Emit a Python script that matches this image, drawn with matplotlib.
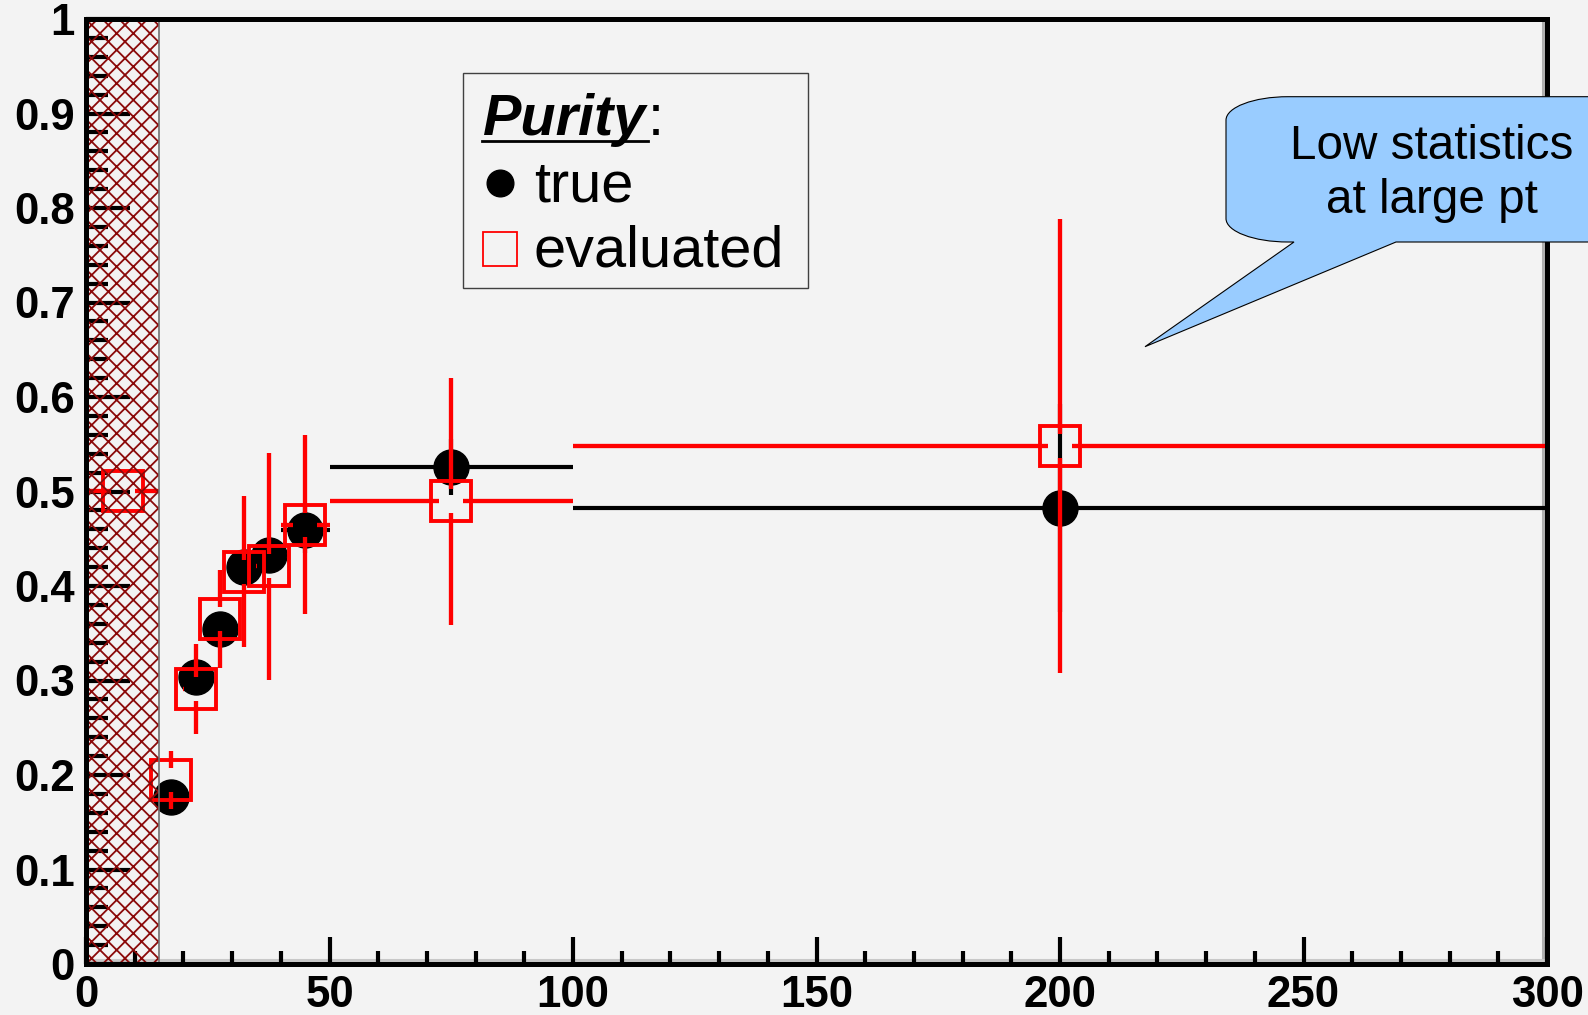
import matplotlib
matplotlib.use("Agg")
import matplotlib.pyplot as plt
from matplotlib.patches import Rectangle, PathPatch
from matplotlib.path import Path
from matplotlib.lines import Line2D
from matplotlib.collections import LineCollection
import matplotlib.transforms as mtransforms
import numpy as np

plt.rcParams['font.family'] = ['Liberation Sans', 'DejaVu Sans']
plt.rcParams['hatch.linewidth'] = 1.3

# pt bins (centre, half width)
true_x = [17.5, 22.5, 27.5, 32.5, 37.5, 45, 75, 200]
true_xerr = [2.5, 2.5, 2.5, 2.5, 2.5, 5, 25, 100]
true_y = [0.177, 0.304, 0.355, 0.42, 0.433, 0.4595, 0.526, 0.483]
true_yerr = [0.01, 0.012, 0.014, 0.016, 0.018, 0.025, 0.03, 0.11]

eval_x = [7.5, 17.5, 22.5, 27.5, 32.5, 37.5, 45, 75, 200]
eval_xerr = [7.5, 2.5, 2.5, 2.5, 2.5, 2.5, 5, 25, 100]
eval_y = [0.501, 0.1945, 0.291, 0.365, 0.415, 0.421, 0.465, 0.4895, 0.548]
eval_yerr = [0.0, 0.031, 0.048, 0.052, 0.08, 0.12, 0.095, 0.131, 0.24]

excluded = (0, 15)   # hatched low-pt region

x_ticks = [0, 50, 100, 150, 200, 250, 300]
x_ticklabels = ['0', '50', '100', '150', '200', '250', '300']
y_ticks = [0, 0.1, 0.2, 0.3, 0.4, 0.5, 0.6, 0.7, 0.8, 0.9, 1.0]
y_ticklabels = ['0', '0.1', '0.2', '0.3', '0.4', '0.5', '0.6', '0.7', '0.8', '0.9', '1']

W, H = 1588, 1015
BG = '#f3f3f3'


def P(x, y):
    # pixel position (from top-left) -> figure fraction
    return (x / W, 1 - y / H)


fig = plt.figure(figsize=(W / 100, H / 100), dpi=100, facecolor=BG)
ax = fig.add_axes([86 / W, (H - 964) / H, (1547 - 86) / W, (964 - 19) / H])
ax.set_facecolor(BG)
ax.set_xlim(0, 300)
ax.set_ylim(0, 1)

for s in ax.spines.values():
    s.set_linewidth(3.6)
    s.set_zorder(10)

ax.set_xticks(x_ticks)
ax.set_xticklabels(x_ticklabels)
ax.set_yticks(y_ticks)
ax.set_yticklabels(y_ticklabels)
ax.set_xticks(np.arange(0, 301, 10), minor=True)
ax.set_yticks(np.arange(0, 1.001, 0.02), minor=True)
ax.tick_params(axis='both', which='both', direction='in', width=3, color='black')
ax.tick_params(axis='x', which='major', length=19.5, pad=8, labelsize=31.5)
ax.tick_params(axis='x', which='minor', length=9.5)
ax.tick_params(axis='y', which='major', length=31.5, pad=8, labelsize=31.5)
ax.tick_params(axis='y', which='minor', length=16)
for lab in ax.get_xticklabels() + ax.get_yticklabels():
    lab.set_fontweight('bold')

# frame shadow inside right / bottom border
shadow_r = mtransforms.offset_copy(ax.transAxes, fig=fig, x=-4.5, y=0, units='dots')
ax.add_line(Line2D([1, 1], [0, 1], transform=shadow_r, color='#b0b0b0', lw=2.2, zorder=1.5))
shadow_b = mtransforms.offset_copy(ax.transAxes, fig=fig, x=0, y=4.5, units='dots')
ax.add_line(Line2D([0, 1], [0, 0], transform=shadow_b, color='#c8c8c8', lw=2.2, zorder=1.5))


def error_lines(xs, ys, xes, yes, gap_px, color, lw, z):
    o = ax.transData.transform((0, 0))
    sx = ax.transData.transform((1, 0))[0] - o[0]
    sy = ax.transData.transform((0, 1))[1] - o[1]
    gx, gy = gap_px / sx, gap_px / sy
    segs = []
    for xi, yi, ex, ey in zip(xs, ys, xes, yes):
        if ex > gx:
            segs.append([(xi - ex, yi), (xi - gx, yi)])
            segs.append([(xi + gx, yi), (xi + ex, yi)])
        if ey > gy:
            segs.append([(xi, yi - ey), (xi, yi - gy)])
            segs.append([(xi, yi + gy), (xi, yi + ey)])
    ax.add_collection(LineCollection(segs, colors=color, linewidths=lw, zorder=z,
                                     capstyle='butt'))


error_lines(true_x, true_y, true_xerr, true_yerr, 0, 'black', 3.0, 3)
ax.plot(true_x, true_y, 'o', color='black', markersize=25.2, zorder=4)
error_lines(eval_x, eval_y, eval_xerr, eval_yerr, 12, '#ff0000', 3.1, 5)
ax.plot(eval_x, eval_y, 's', markerfacecolor='none', markeredgecolor='#ff0000',
        markeredgewidth=2.8, markersize=28.4, zorder=6)

# hatched region, drawn over the markers as in the original
ax.add_patch(Rectangle((excluded[0], 0), excluded[1] - excluded[0], 1, facecolor='none',
                       edgecolor='#8b0a0a', hatch='xx', linewidth=0, zorder=7))
ax.add_patch(Rectangle((excluded[0], 0), excluded[1] - excluded[0], 1, facecolor='none',
                       edgecolor='#707070', linewidth=1.2, zorder=7))

# legend box
fig.add_artist(Rectangle(P(463.3, 288.3), (807.7 - 463.3) / W, (288.3 - 73.3) / H,
                         transform=fig.transFigure, facecolor=BG, edgecolor='#404040',
                         linewidth=1.0, zorder=20))
fig.text(*P(483.3, 135), 'Purity', fontsize=41.5, fontweight='bold', fontstyle='italic',
         va='baseline', ha='left', zorder=21)
fig.add_artist(Line2D([482.3 / W, 647.7 / W], [1 - 141 / H, 1 - 141 / H],
                      transform=fig.transFigure, color='black', lw=2.0, zorder=21))
fig.text(*P(648, 135), ':', fontsize=41.5, va='baseline', ha='left', zorder=21)
fig.add_artist(Line2D([500 / W], [1 - 183.3 / H], transform=fig.transFigure, marker='o',
                      color='black', markersize=19.2, linestyle='none', zorder=21))
fig.text(*P(534, 201), 'true', fontsize=41.5, va='baseline', ha='left', zorder=21)
fig.add_artist(Line2D([500 / W], [1 - 249 / H], transform=fig.transFigure, marker='s',
                      markerfacecolor='none', markeredgecolor='#ff0000', markeredgewidth=1.3,
                      markersize=24.4, linestyle='none', zorder=21))
fig.text(*P(534, 266.7), 'evaluated', fontsize=41.5, va='baseline', ha='left', zorder=21)

# callout bubble
L, R, T, B = 1226, 1650, 96.7, 242
rx, ry = 62, 23.5
k = 0.5523
tip = (1145, 346.7)
pts = [
    ((L + rx, T), Path.MOVETO),
    ((R - rx, T), Path.LINETO),
    ((R - rx + k * rx, T), Path.CURVE4), ((R, T + ry - k * ry), Path.CURVE4), ((R, T + ry), Path.CURVE4),
    ((R, B - ry), Path.LINETO),
    ((R, B - ry + k * ry), Path.CURVE4), ((R - rx + k * rx, B), Path.CURVE4), ((R - rx, B), Path.CURVE4),
    ((1396, B), Path.LINETO),
    (tip, Path.LINETO),
    ((1294, B), Path.LINETO),
    ((L + rx, B), Path.LINETO),
    ((L + rx - k * rx, B), Path.CURVE4), ((L, B - ry + k * ry), Path.CURVE4), ((L, B - ry), Path.CURVE4),
    ((L, T + ry), Path.LINETO),
    ((L, T + ry - k * ry), Path.CURVE4), ((L + rx - k * rx, T), Path.CURVE4), ((L + rx, T), Path.CURVE4),
    ((L + rx, T), Path.CLOSEPOLY),
]
verts = [P(*p) for p, c in pts]
codes = [c for p, c in pts]
fig.add_artist(PathPatch(Path(verts, codes), transform=fig.transFigure, facecolor='#99ccff',
                         edgecolor='black', linewidth=0.8, zorder=20))
fig.text(*P(1432, 159), 'Low statistics', fontsize=34.3, ha='center', va='baseline', zorder=21)
fig.text(*P(1432, 213.3), 'at large pt', fontsize=34.3, ha='center', va='baseline', zorder=21)

fig.savefig('out.png', dpi=100, facecolor=BG)
